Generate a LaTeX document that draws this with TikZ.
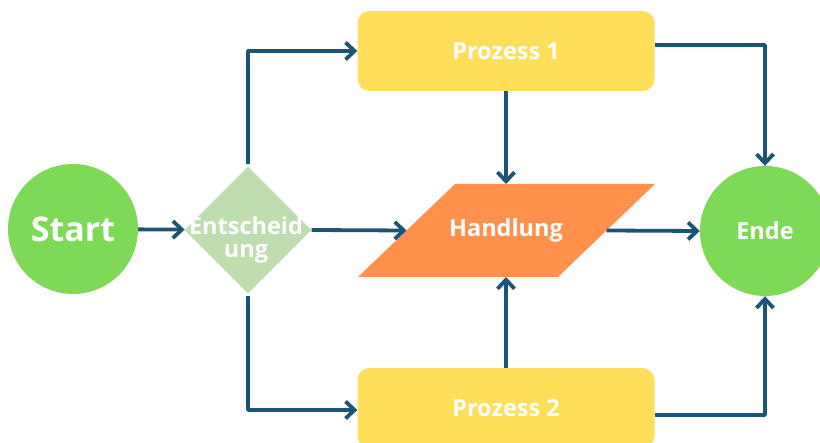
\documentclass[tikz,border=0pt]{standalone}
\usepackage{fontspec}
\setmainfont{Open Sans}
\usetikzlibrary{shapes.geometric,arrows.meta,calc}
\definecolor{flowline}{HTML}{1C5476}
\definecolor{termgreen}{HTML}{7ED957}
\definecolor{decgreen}{HTML}{BEDEB0}
\definecolor{procyellow}{HTML}{FFDE59}
\definecolor{actorange}{HTML}{FF914D}
\begin{document}
\begin{tikzpicture}[x=1pt,y=-1pt,
  lbl/.style={text=white,font=\bfseries\fontsize{23.5}{23}\selectfont,align=center},
  term/.style={circle,fill=termgreen,minimum size=130pt,inner sep=0pt,
    text=white,font=\bfseries\fontsize{23.5}{27}\selectfont},
  proc/.style={rectangle,rounded corners=12pt,fill=procyellow,
    minimum width=297pt,minimum height=80pt,
    text=white,font=\bfseries\fontsize{23.5}{27}\selectfont},
  flow/.style={draw=flowline,line width=3.8pt,line join=round,
    -{Straight Barb[length=9pt,width=17pt]}}]
\useasboundingbox (0,0) rectangle (820,443);
\clip (0,0) rectangle (820,443);
\fill[white] (0,0) rectangle (820,443);

% terminals, decision and process boxes
\node[term,font=\bfseries\fontsize{34}{40}\selectfont] (start) at (73,229) {Start};
\node[diamond,fill=decgreen,minimum width=127pt,minimum height=127pt,inner sep=0pt] (dec) at (248,230) {};
\node[lbl] (dectext) at (246,240) {Entscheid\\ung};
\node[proc] (p1) at (506,51) {Prozess 1};
\node[proc] (p2) at (506,408) {Prozess 2};
\node[term] (end) at (765,231) {Ende};

% action parallelogram
\coordinate (actTL) at (455,184);
\coordinate (actTR) at (655,184);
\coordinate (actBR) at (558,277);
\coordinate (actBL) at (358,277);
\fill[actorange] (actTL) -- (actTR) -- (actBR) -- (actBL) -- cycle;
\node[lbl] (act) at (506,230) {Handlung};
\coordinate (actW) at ($(actTL)!0.5!(actBL)$);
\coordinate (actE) at ($(actTR)!0.5!(actBR)$);
\coordinate (actN) at (506,184);
\coordinate (actS) at (506,277);

% connectors
\draw[flow] (start) -- (dec);
\draw[flow] ([yshift=2pt]dec.north) |- (p1.west);
\draw[flow] ([yshift=-2pt]dec.south) |- ([yshift=-2pt]p2.west);
\draw[flow] (dec.east) -- (actW);
\draw[flow] (p1.south) -- (actN);
\draw[flow] (p2.north) -- (actS);
\draw[flow] (actE) -- (end.west);
\draw[flow] ([yshift=6pt]p1.east) -| (end.north);
\draw[flow] ([yshift=-7pt]p2.east) -| (end.south);
\end{tikzpicture}
\end{document}
